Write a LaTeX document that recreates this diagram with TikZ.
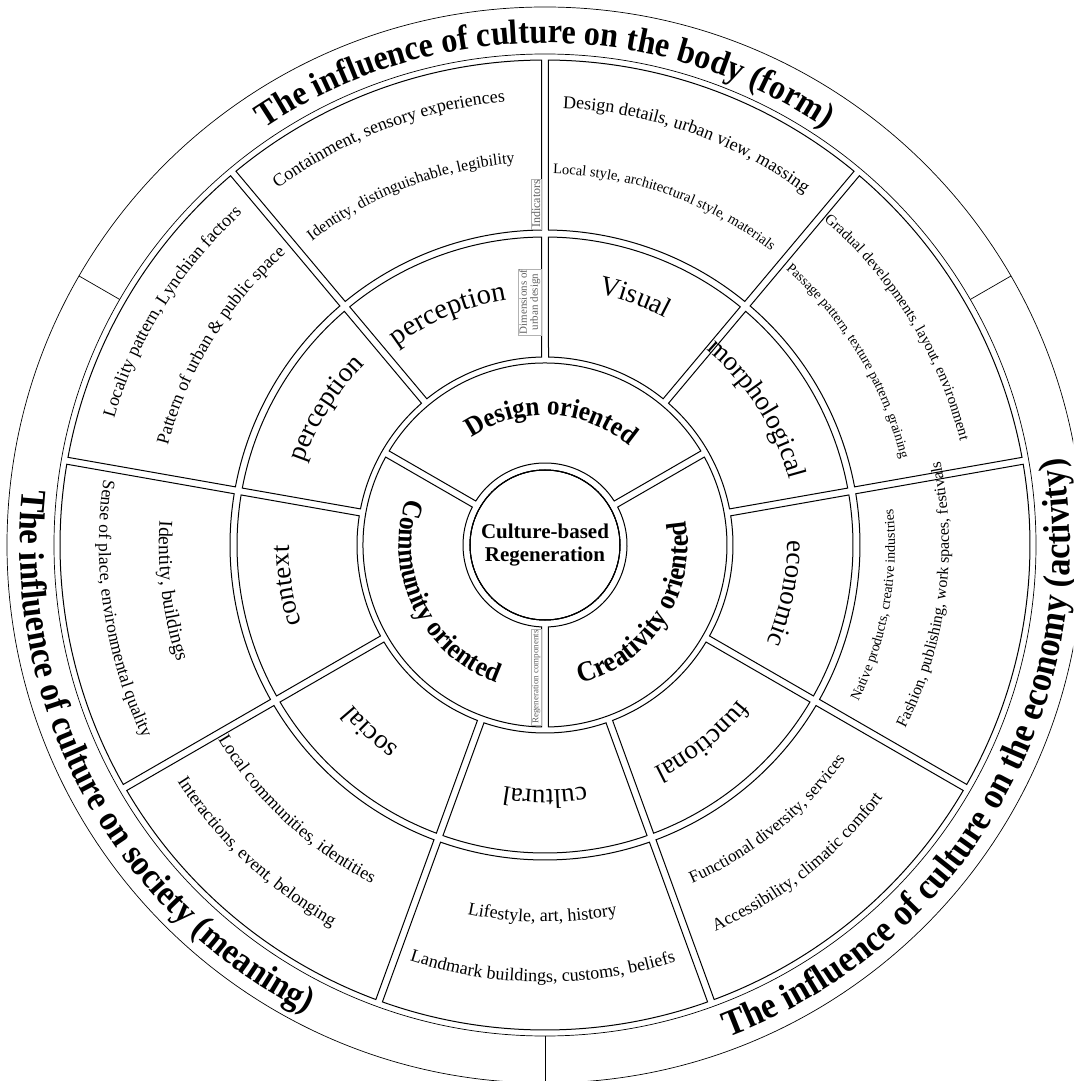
\documentclass[tikz,border=0pt]{standalone}
\usepackage{fontspec}
\setmainfont{Liberation Serif}
\newfontfamily\wordart[FakeStretch=0.92]{Liberation Serif}
\usetikzlibrary{decorations.text}

\newcommand\gap{3.5}
\newcommand\fs[1]{\fontsize{#1}{#1}\selectfont}

\newcommand\sector[4]{%
  \pgfmathsetmacro\dO{asin(\gap/#4)}%
  \pgfmathsetmacro\dI{asin(\gap/#3)}%
  \draw[cell] ({#1+\dO}:#4) arc[start angle={#1+\dO}, end angle={#2-\dO}, radius=#4]
    -- ({#2-\dI}:#3) arc[start angle={#2-\dI}, end angle={#1+\dI}, radius=#3] -- cycle;}

% text on an arc: cw = letters point outward, ccw = letters point inward
\newcommand\cwtext[4]{%
  \path[decorate, decoration={text along path, text align=center, text={|#3|#4}}]
    ({#1+85}:#2) arc[start angle={#1+85}, end angle={#1-85}, radius=#2];}
\newcommand\ccwtext[4]{%
  \path[decorate, decoration={text along path, text align=center, text={|#3|#4}}]
    ({#1-85}:#2) arc[start angle={#1-85}, end angle={#1+85}, radius=#2];}

\begin{document}
\begin{tikzpicture}[x=1pt, y=1pt,
  cell/.style={draw=black, line width=1pt},
  rim/.style={draw=black, line width=0.7pt},
  tag/.style={draw=gray!60, line width=0.3pt, text=gray!75!black,
    inner sep=1pt, rotate=90, anchor=south, align=center}
]
  \useasboundingbox (-545,-536) rectangle (528,545);
  \clip (-545,-536) rectangle (528,545);

  \draw[rim] (0,0) circle[radius=538];
  \draw[rim] (0,0) circle[radius=491];
  \foreach \a in {30,150,270}
    \draw[rim] (\a:491) -- (\a:538);

  \foreach \a in {10,50,...,330} {
    \sector{\a}{\a+40}{315}{485}
    \sector{\a}{\a+40}{188}{308}
  }
  \foreach \a in {30,150,270}
    \sector{\a}{\a+120}{82}{182}
  \draw[cell] (0,0) circle[radius=75];

  \node[font=\bfseries\fs{21}, align=center] (core) at (0,0)
    {Culture-based\\[2pt]Regeneration};

  \node[tag, font=\fs{12}] (ind) at (-3.5,341) {Indicators};
  \node[tag, font=\fs{11}] (dim) at (-3.5,243) {Dimensions of\\urban design};
  \node[tag, font=\fs{9}] (reg) at (-3.5,-132) {Regeneration components};

  \cwtext{90}{502}{\wordart\bfseries\fs{35}}{The influence of culture on the body (form)}
  \ccwtext{208.5}{525}{\wordart\bfseries\fs{35.8}}{The influence of culture on society (meaning)}
  \ccwtext{-30}{525}{\wordart\bfseries\fs{37.2}}{The influence of culture on the economy (activity)}

  \cwtext{87}{130}{\wordart\bfseries\fs{27.5}}{Design oriented}
  \ccwtext{206}{146}{\wordart\bfseries\fs{27.7}}{Community oriented}
  \ccwtext{-33}{143}{\wordart\bfseries\fs{28.5}}{Creativity oriented}

  \cwtext{112.8}{248}{\fs{28.5}}{perception}
  \cwtext{70}{257}{\fs{27.5}}{Visual}
  \cwtext{32.7}{253}{\fs{27}}{morphological}
  \cwtext{-11.3}{242}{\fs{27}}{economic}
  \cwtext{-51.3}{248}{\fs{27}}{functional}
  \cwtext{270}{245}{\fs{27}}{cultural}
  \cwtext{227}{250}{\fs{27}}{social}
  \cwtext{189}{256}{\fs{27}}{context}
  \cwtext{148}{255}{\fs{27.5}}{perception}

  \cwtext{111}{445}{\fs{18}}{Containment, sensory experiences}
  \cwtext{111}{383}{\fs{16}}{Identity, distinguishable, legibility}
  \cwtext{70.6}{437}{\fs{18}}{Design details, urban view, massing}
  \cwtext{70.6}{371}{\fs{14.5}}{Local style, architectural style, materials}
  \cwtext{31.7}{428}{\fs{15}}{Gradual developments, layout, environment}
  \cwtext{31.2}{366}{\fs{13.8}}{Passage pattern, texture pattern, graining}
  \cwtext{148}{449}{\fs{18}}{Locality pattern, Lynchian factors}
  \cwtext{148.4}{390}{\fs{18}}{Pattern of urban {\&} public space}

  \ccwtext{-10.3}{350}{\fs{14}}{Native products, creative industries}
  \ccwtext{-7.5}{404}{\fs{16}}{Fashion, publishing, work spaces, festivals}
  \ccwtext{-51}{369}{\fs{17}}{Functional diversity, services}
  \ccwtext{-51.5}{422}{\fs{17.5}}{Accessibility, climatic comfort}
  \ccwtext{269.6}{377}{\fs{18}}{Lifestyle, art, history}
  \ccwtext{269.7}{437}{\fs{18}}{Landmark buildings, customs, beliefs}
  \ccwtext{226.8}{380}{\fs{18}}{Local communities, identities}
  \ccwtext{226.8}{437}{\fs{18}}{Interactions, event, belonging}
  \ccwtext{188.6}{446}{\fs{17.6}}{Sense of place, environmental quality}
  \ccwtext{187}{386}{\fs{19.5}}{Identity, buildings}
\end{tikzpicture}
\end{document}
